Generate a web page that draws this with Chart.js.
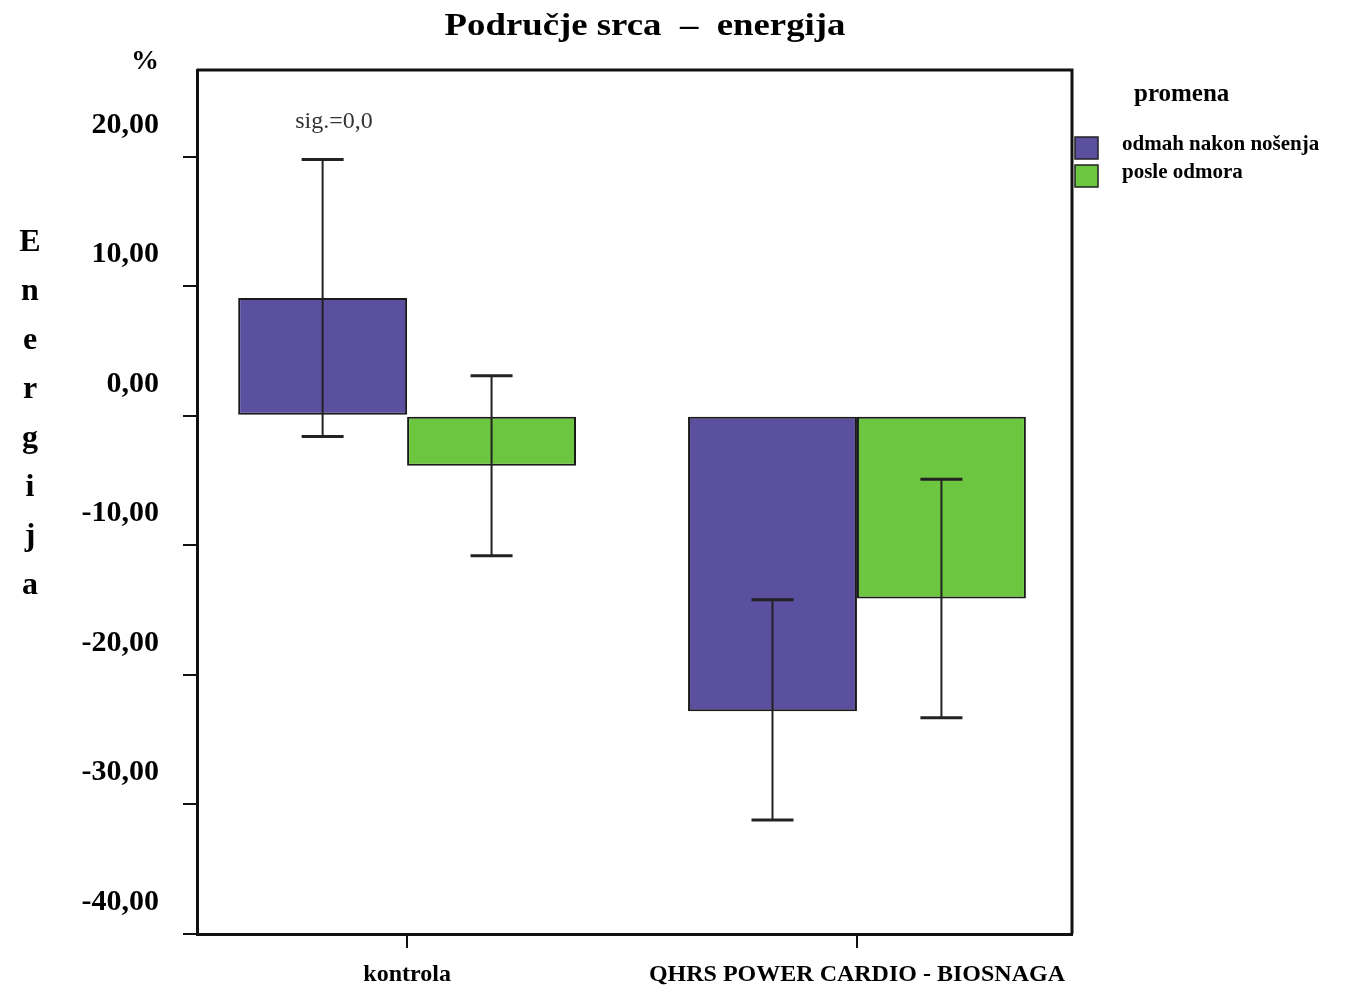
<!DOCTYPE html>
<html>
<head>
<meta charset="utf-8">
<script src="https://cdn.jsdelivr.net/npm/chart.js@4/dist/chart.umd.min.js"></script>
<style>
  body { margin: 0; background: #fff; }
  canvas { display: block; }
</style>
</head>
<body>
<canvas id="myChart" width="1366" height="989"></canvas>
<script>
// podaci
let categories = ["kontrola", "QHRS POWER CARDIO - BIOSNAGA"];
let seriesNames = ["odmah nakon nošenja", "posle odmora"];
let odmah = [9.1, -22.8];
let odmahLow = [-1.6, -31.2];
let odmahHigh = [19.8, -14.2];
let posle = [-3.85, -14.1];
let posleLow = [-10.8, -23.3];
let posleHigh = [3.1, -4.9];
let yTicks = [20, 10, 0, -10, -20, -30, -40];

let purple = "#5b4f9f";
let green = "#6cc640";
let serif = "'Liberation Serif', 'Times New Roman', serif";

// error bars + okvir + tekstovi
const extras = {
  id: "extras",
  afterDatasetsDraw(chart) {
    const ctx = chart.ctx;
    const y = chart.scales.y;
    const lows = [odmahLow, posleLow];
    const highs = [odmahHigh, posleHigh];
    ctx.save();
    ctx.strokeStyle = "#222";
    chart.data.datasets.forEach((ds, i) => {
      const meta = chart.getDatasetMeta(i);
      meta.data.forEach((bar, j) => {
        const yl = y.getPixelForValue(lows[i][j]);
        const yh = y.getPixelForValue(highs[i][j]);
        ctx.lineWidth = 2;
        ctx.beginPath();
        ctx.moveTo(bar.x, yl);
        ctx.lineTo(bar.x, yh);
        ctx.stroke();
        ctx.lineWidth = 3;
        ctx.beginPath();
        ctx.moveTo(bar.x - 21, yl);
        ctx.lineTo(bar.x + 21, yl);
        ctx.moveTo(bar.x - 21, yh);
        ctx.lineTo(bar.x + 21, yh);
        ctx.stroke();
      });
    });
    ctx.restore();
  },
  afterDraw(chart) {
    const ctx = chart.ctx;
    const a = chart.chartArea;
    ctx.save();
    // gornja i desna ivica
    ctx.strokeStyle = "#111";
    ctx.lineWidth = 3;
    ctx.beginPath();
    ctx.moveTo(a.left, a.top);
    ctx.lineTo(a.right, a.top);
    ctx.lineTo(a.right, a.bottom);
    ctx.stroke();

    ctx.fillStyle = "#000";
    ctx.textAlign = "center";
    ctx.textBaseline = "middle";
    // naslov (malo razvucen horizontalno)
    ctx.save();
    ctx.translate(645, 27);
    ctx.scale(1.15, 1);
    ctx.font = "bold 32px " + serif;
    ctx.fillText("Područje srca  –  energija", 0, 0);
    ctx.restore();

    ctx.font = "bold 28px " + serif;
    ctx.fillText("%", 145, 62);

    ctx.font = "bold 32px " + serif;
    "Energija".split("").forEach((ch, k) => {
      ctx.fillText(ch, 30, 243 + k * 49);
    });

    ctx.fillStyle = "#333";
    ctx.font = "24px " + serif;
    ctx.fillText("sig.=0,0", 334, 122);

    // legenda
    ctx.fillStyle = "#000";
    ctx.textAlign = "left";
    ctx.font = "bold 25px " + serif;
    ctx.fillText("promena", 1134, 95);
    const colors = [purple, green];
    ctx.font = "bold 21px " + serif;
    seriesNames.forEach((name, k) => {
      const top = 137 + k * 28;
      ctx.fillStyle = colors[k];
      ctx.fillRect(1075, top, 23, 22);
      ctx.strokeStyle = "#222";
      ctx.lineWidth = 1.5;
      ctx.strokeRect(1075, top, 23, 22);
      ctx.fillStyle = "#000";
      ctx.fillText(name, 1122, top + 8);
    });
    ctx.restore();
  },
};

const ctx = document.getElementById("myChart").getContext("2d");
const myChart = new Chart(ctx, {
  type: "bar",
  data: {
    datasets: [
      {
        label: seriesNames[0],
        data: odmah.map((v, i) => ({ x: i, y: v })),
        backgroundColor: purple,
        borderColor: "#1a1a1a",
        borderWidth: 2,
        borderSkipped: false,
      },
      {
        label: seriesNames[1],
        data: posle.map((v, i) => ({ x: i, y: v })),
        backgroundColor: green,
        borderColor: "#1a1a1a",
        borderWidth: 2,
        borderSkipped: false,
      },
    ],
  },
  options: {
    responsive: false,
    animation: false,
    layout: { padding: { top: 70, right: 294, left: 0, bottom: 0 } },
    datasets: { bar: { categoryPercentage: 0.751, barPercentage: 1 } },
    plugins: {
      legend: { display: false },
      tooltip: { enabled: false },
    },
    scales: {
      x: {
        type: "linear",
        offset: false,
        min: -0.467,
        max: 1.478,
        afterFit: (scale) => { scale.height = 55; },
        afterBuildTicks: (scale) => {
          scale.ticks = categories.map((c, i) => ({ value: i }));
        },
        grid: {
          offset: false,
          drawOnChartArea: false,
          tickLength: 14,
          lineWidth: 2,
          color: "#111",
        },
        border: { display: true, color: "#111", width: 3 },
        ticks: {
          color: "#000",
          padding: 12,
          font: { family: serif, size: 24, weight: "bold" },
          callback: (v) => categories[v],
        },
      },
      y: {
        min: -40,
        max: 26.7,
        afterFit: (scale) => { scale.width = 197; },
        afterBuildTicks: (scale) => {
          scale.ticks = yTicks.map((v) => ({ value: v }));
        },
        grid: {
          drawOnChartArea: false,
          tickLength: 14,
          lineWidth: 2,
          color: "#111",
        },
        border: { display: true, color: "#111", width: 3 },
        ticks: {
          color: "#000",
          padding: 24,
          labelOffset: -32,
          font: { family: serif, size: 30, weight: "bold" },
          callback: (v) => v.toFixed(2).replace(".", ","),
        },
      },
    },
  },
  plugins: [extras],
});
</script>
</body>
</html>
